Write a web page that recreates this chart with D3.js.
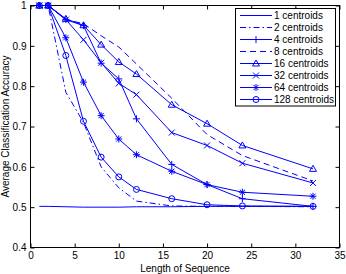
<!DOCTYPE html>
<html><head><meta charset="utf-8">
<script src="https://cdn.jsdelivr.net/npm/d3@7"></script>
<style>body{margin:0;background:#fff}svg{display:block;font-family:"Liberation Sans",Arial,sans-serif}</style>
</head><body>
<svg id="c" width="346" height="274"></svg>
<script>
const xs = [1,2,4,6,8,10,12,16,20,24,32];
const c1 = [0.502,0.502,0.501,0.500,0.500,0.500,0.501,0.501,0.502,0.502,0.502];
const c2 = [1,1,0.785,0.71,0.6,0.548,0.515,0.503,0.502,0.502,0.501];
const c4 = [1,1,0.965,0.95,0.857,0.818,0.719,0.606,0.556,0.521,0.502];
const c8 = [1,1,0.965,0.955,0.925,0.897,0.855,0.77,0.68,0.628,0.565];
const c16 = [1,1,0.967,0.951,0.903,0.86,0.83,0.754,0.707,0.653,0.595];
const c32 = [1,1,0.965,0.915,0.858,0.807,0.779,0.685,0.653,0.609,0.56];
const c64 = [1,1,0.92,0.81,0.727,0.669,0.63,0.589,0.556,0.537,0.527];
const c128 = [1,1,0.876,0.713,0.624,0.575,0.544,0.521,0.506,0.503,0.502];
const seriesNames = ["1 centroids","2 centroids","4 centroids","8 centroids","16 centroids","32 centroids","64 centroids","128 centroids"];
const seriesVals = [c1,c2,c4,c8,c16,c32,c64,c128];
const dashes = [null,"6,3,1.5,3",null,"6,4",null,null,null,null];
const markers = [null,null,"plus",null,"tri","x","star","circle"];
const xTicks = [0,5,10,15,20,25,30,35];
const yTicks = [0.4,0.5,0.6,0.7,0.8,0.9,1];
const color = "#0000ff";

const svg = d3.select("#c");
const x = d3.scaleLinear().domain([0,35]).range([30.5,339.5]);
const y = d3.scaleLinear().domain([0.4,1]).range([247.5,5.5]);
const L=x.range()[0], R=x.range()[1], T=y.range()[1], B=y.range()[0];

const fmt = d => d===1 ? "1" : d3.format(".1f")(d);
svg.append("g").attr("transform",`translate(0,${B})`)
  .call(d3.axisBottom(x).tickValues(xTicks).tickSizeInner(-4).tickSizeOuter(0).tickPadding(4))
  .call(g=>{g.select(".domain").remove();});
svg.append("g").attr("transform",`translate(0,${T})`)
  .call(d3.axisTop(x).tickValues(xTicks).tickSizeInner(-4).tickSizeOuter(0).tickFormat(""))
  .call(g=>g.select(".domain").remove());
svg.append("g").attr("transform",`translate(${L},0)`)
  .call(d3.axisLeft(y).tickValues(yTicks).tickSizeInner(-4).tickSizeOuter(0).tickPadding(4).tickFormat(fmt))
  .call(g=>g.select(".domain").remove());
svg.append("g").attr("transform",`translate(${R},0)`)
  .call(d3.axisRight(y).tickValues(yTicks).tickSizeInner(-4).tickSizeOuter(0).tickFormat(""))
  .call(g=>g.select(".domain").remove());
svg.selectAll(".tick line").attr("stroke","#000");
svg.selectAll(".tick text").attr("font-size",10).attr("font-family","Liberation Sans, Arial, sans-serif").attr("fill","#000");
svg.append("rect").attr("x",L).attr("y",T).attr("width",R-L).attr("height",B-T)
  .attr("fill","none").attr("stroke","#000").attr("stroke-width",1);

svg.append("text").attr("x",(L+R)/2).attr("y",271.5).attr("text-anchor","middle")
  .attr("font-size",10).text("Length of Sequence");
svg.append("text").attr("transform",`translate(9,${(T+B)/2}) rotate(-90)`).attr("text-anchor","middle")
  .attr("font-size",10).text("Average Classification Accuracy");

function drawMarker(g, type, cx, cy){
  const s = 3.5;
  if(type==="plus"){
    g.append("path").attr("d",`M${cx-s},${cy}H${cx+s}M${cx},${cy-s}V${cy+s}`).attr("stroke",color).attr("fill","none");
  } else if(type==="x"){
    const t=3;
    g.append("path").attr("d",`M${cx-t},${cy-t}L${cx+t},${cy+t}M${cx-t},${cy+t}L${cx+t},${cy-t}`).attr("stroke",color).attr("fill","none");
  } else if(type==="star"){
    const t=2.6;
    g.append("path").attr("d",`M${cx-s},${cy}H${cx+s}M${cx},${cy-s}V${cy+s}M${cx-t},${cy-t}L${cx+t},${cy+t}M${cx-t},${cy+t}L${cx+t},${cy-t}`).attr("stroke",color).attr("fill","none");
  } else if(type==="tri"){
    g.append("path").attr("d",`M${cx},${cy-3.5}L${cx+3.5},${cy+2.5}L${cx-3.5},${cy+2.5}Z`).attr("stroke",color).attr("fill","none");
  } else if(type==="circle"){
    g.append("circle").attr("cx",cx).attr("cy",cy).attr("r",3).attr("stroke",color).attr("fill","none");
  }
}

const line = d3.line().x(d=>x(d[0])).y(d=>y(d[1]));
const plot = svg.append("g");
seriesVals.forEach((vals,i)=>{
  const pts = xs.map((xv,j)=>[xv,vals[j]]);
  plot.append("path").datum(pts).attr("d",line).attr("fill","none").attr("stroke",color)
    .attr("stroke-width",1).attr("stroke-dasharray",dashes[i]);
  if(markers[i]) pts.forEach(p=>drawMarker(plot,markers[i],x(p[0]),y(p[1])));
});

const lg = svg.append("g");
lg.append("rect").attr("x",235.5).attr("y",8.5).attr("width",100).attr("height",97.5)
  .attr("fill","#fff").attr("stroke","#000");
seriesNames.forEach((n,i)=>{
  const yy = 15.5 + i*12;
  lg.append("line").attr("x1",240).attr("x2",272).attr("y1",yy).attr("y2",yy)
    .attr("stroke",color).attr("stroke-dasharray",dashes[i]);
  if(markers[i]) drawMarker(lg,markers[i],256,yy);
  lg.append("text").attr("x",274).attr("y",yy+3.5).attr("font-size",10).text(n);
});
</script>
</body></html>
